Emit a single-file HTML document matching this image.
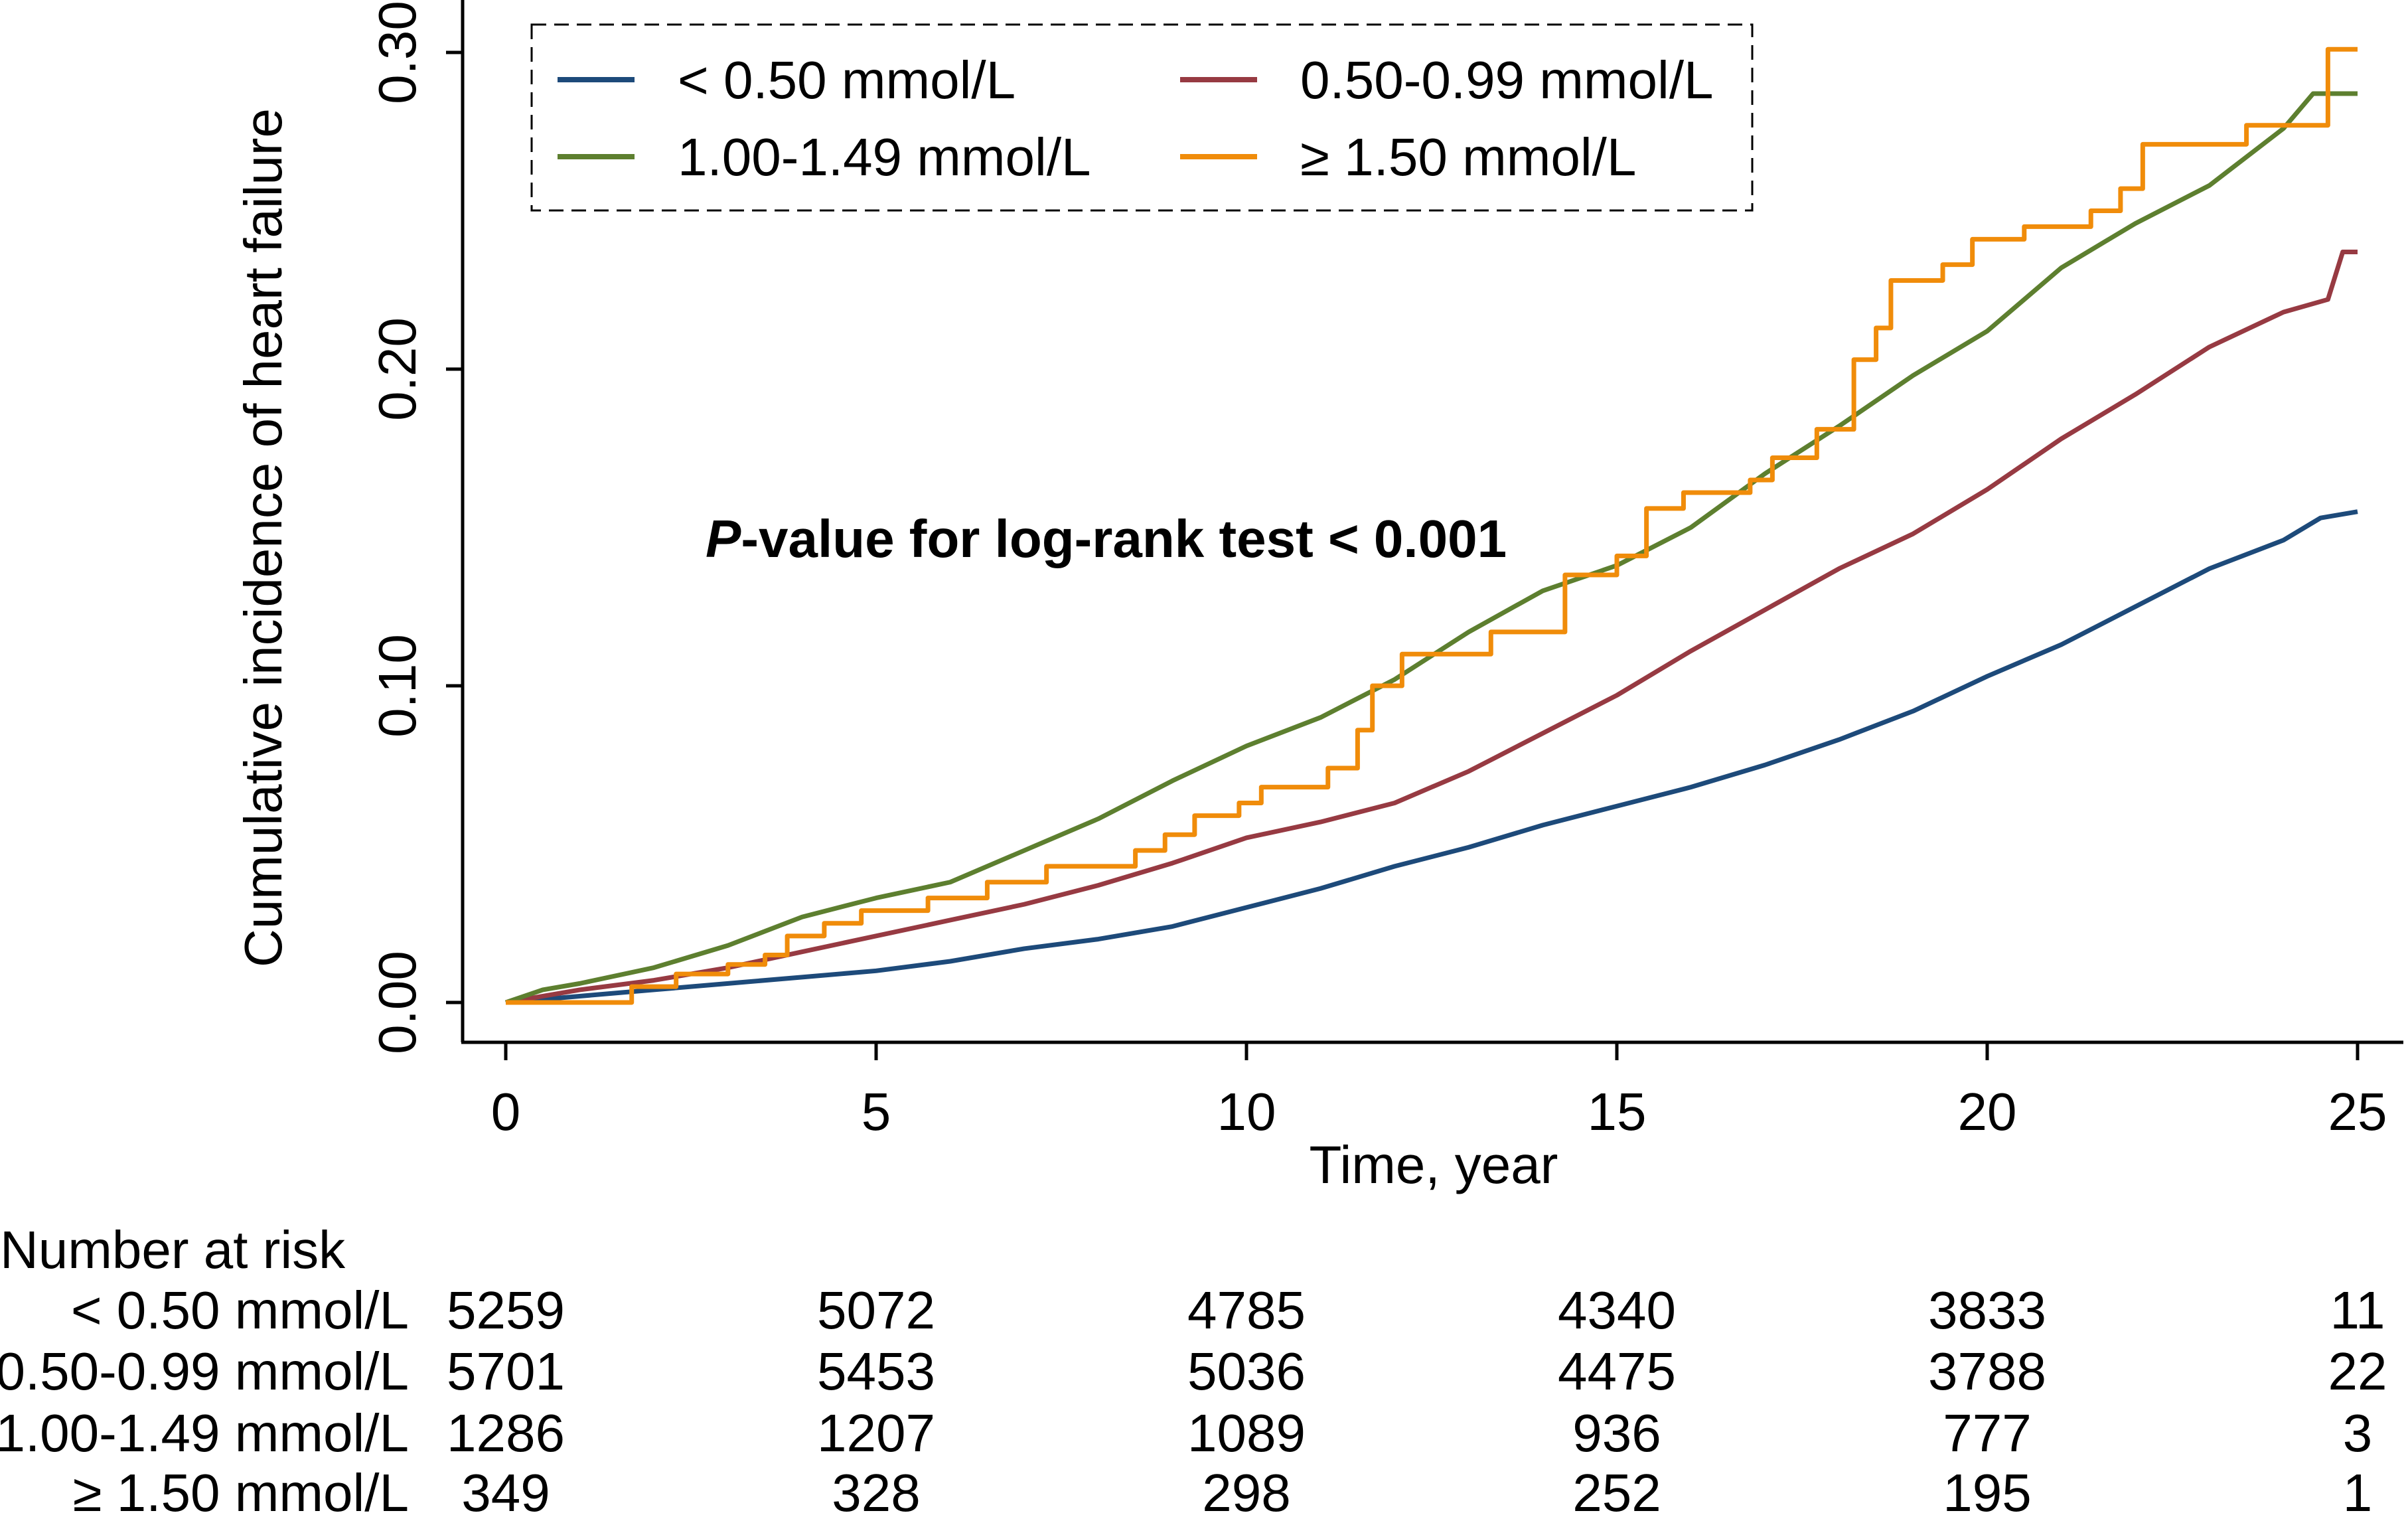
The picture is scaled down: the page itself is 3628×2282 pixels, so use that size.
<!DOCTYPE html>
<html><head><meta charset="utf-8"><style>
html,body{margin:0;padding:0;background:#fff;}
svg{display:block;font-family:"Liberation Sans",Arial,sans-serif;}
</style></head><body>
<svg id="chart" width="3628" height="2282" viewBox="0 0 3628 2282">
<g id="axes"></g>
<g id="series"></g>
<g id="legend"></g>
<g id="risk"></g>
</svg>
<script>
const xTicks=[0,5,10,15,20,25];
const yTicks=[0,0.1,0.2,0.3];
const yTickLabels=["0.00","0.10","0.20","0.30"];
const seriesNames=["< 0.50 mmol/L","0.50-0.99 mmol/L","1.00-1.49 mmol/L","≥ 1.50 mmol/L"];
const seriesColors=["#1d4a7a","#973a42","#5d7f2f","#f08c0a"];
const blueT=[0,1,2,3,4,5,6,7,8,9,10,11,12,13,14,15,16,17,18,19,20,21,22,23,24,24.5,25];
const blueV=[0,0.002,0.004,0.006,0.008,0.010,0.013,0.017,0.020,0.024,0.030,0.036,0.043,0.049,0.056,0.062,0.068,0.075,0.083,0.092,0.103,0.113,0.125,0.137,0.146,0.153,0.155];
const redT=[0,1,2,3,4,5,6,7,8,9,10,11,12,13,14,15,16,17,18,19,20,21,22,23,24,24.6,24.8,25];
const redV=[0,0.004,0.007,0.011,0.016,0.021,0.026,0.031,0.037,0.044,0.052,0.057,0.063,0.073,0.085,0.097,0.111,0.124,0.137,0.148,0.162,0.178,0.192,0.207,0.218,0.222,0.237,0.237];
const greenT=[0,0.5,1,2,3,4,5,6,7,8,9,10,11,12,13,14,15,16,17,18,19,20,21,22,23,24,24.4,25];
const greenV=[0,0.004,0.006,0.011,0.018,0.027,0.033,0.038,0.048,0.058,0.070,0.081,0.090,0.102,0.117,0.130,0.138,0.150,0.167,0.182,0.198,0.212,0.232,0.246,0.258,0.276,0.287,0.287];
const orangeT=[0,1.7,2.3,3,3.5,3.8,4.3,4.8,5.7,6.5,7.3,8.5,8.9,9.3,9.9,10.2,11.1,11.5,11.7,12.1,13.3,14.3,15,15.4,15.9,16.8,17.1,17.7,18.2,18.5,18.7,19.4,19.8,20.5,21.4,21.8,22.1,23.5,24.6,25];
const orangeV=[0,0.005,0.009,0.012,0.015,0.021,0.025,0.029,0.033,0.038,0.043,0.048,0.053,0.059,0.063,0.068,0.074,0.086,0.100,0.110,0.117,0.135,0.141,0.156,0.161,0.165,0.172,0.181,0.203,0.213,0.228,0.233,0.241,0.245,0.250,0.257,0.271,0.277,0.301,0.301];
const riskBlue=[5259,5072,4785,4340,3833,11];
const riskRed=[5701,5453,5036,4475,3788,22];
const riskGreen=[1286,1207,1089,936,777,3];
const riskOrange=[349,328,298,252,195,1];

const NS="http://www.w3.org/2000/svg";
const FS=80;
const X=t=>762+(3552-762)*t/25;
const Y=v=>1510-(1510-79)*v/0.3;
function mk(tag,attrs,parent,text){const e=document.createElementNS(NS,tag);for(const k in attrs)e.setAttribute(k,attrs[k]);if(text!==undefined)e.textContent=text;parent.appendChild(e);return e;}
const axes=document.getElementById('axes');
let e;
e=mk('line',{x1:697,y1:0,x2:697,y2:1570,stroke:'#000','stroke-width':5},axes);


e=mk('line',{x1:695,y1:1570,x2:3621,y2:1570,stroke:'#000','stroke-width':5},axes);


yTicks.forEach((v,i)=>{
  e=mk('line',{x1:672,y1:Y(v),x2:697,y2:Y(v),stroke:'#000','stroke-width':5},axes);
  
  
  e=mk('text',{x:0,y:0,transform:`translate(626 ${Y(v)}) rotate(-90)`,'text-anchor':'middle','font-size':FS},axes,yTickLabels[i]);
  
  
});
xTicks.forEach(t=>{
  e=mk('line',{x1:X(t),y1:1570,x2:X(t),y2:1597,stroke:'#000','stroke-width':5},axes);
  
  
  e=mk('text',{x:X(t),y:1702,'text-anchor':'middle','font-size':FS},axes,String(t));
  
  
});
e=mk('text',{x:0,y:0,transform:'translate(424 810) rotate(-90)','text-anchor':'middle','font-size':FS},axes,'Cumulative incidence of heart failure');


e=mk('text',{x:2160,y:1782,'text-anchor':'middle','font-size':FS},axes,'Time, year');


const pt=mk('text',{x:1063,y:839,'font-size':FS,'font-weight':'bold'},axes);


mk('tspan',{'font-style':'italic'},pt,'P');
mk('tspan',{},pt,'-value for log-rank test < 0.001');

const ser=document.getElementById('series');
const allT=[blueT,redT,greenT,orangeT],allV=[blueV,redV,greenV,orangeV];
const stepped=[false,false,false,true];
const sNames=['series-lt-050','series-050-099','series-100-149','series-ge-150'];
allT.forEach((T,s)=>{
  const V=allV[s];let d=`M${X(T[0])},${Y(V[0])}`;
  for(let i=1;i<T.length;i++){
    if(stepped[s]) d+=` H${X(T[i])} V${Y(V[i])}`;
    else d+=` L${X(T[i])},${Y(V[i])}`;
  }
  e=mk('path',{d:d,fill:'none',stroke:seriesColors[s],'stroke-width':7,'stroke-linejoin':'round'},ser);
  
  
});

const lg=document.getElementById('legend');
e=mk('rect',{x:801,y:37,width:1839,height:280,fill:'#fff',stroke:'#000','stroke-width':3,'stroke-dasharray':'22 12'},lg);


const lx=[840,1778,840,1778],ly=[120,120,236,236];
seriesNames.forEach((n,i)=>{
  e=mk('line',{x1:lx[i],y1:ly[i],x2:lx[i]+116,y2:ly[i],stroke:seriesColors[i],'stroke-width':8},lg);
  
  
  e=mk('text',{x:lx[i]+181,y:ly[i]+28,'font-size':FS},lg,n);
  
  
});

const rk=document.getElementById('risk');
e=mk('text',{x:0,y:1910,'font-size':FS},rk,'Number at risk');


const risks=[riskBlue,riskRed,riskGreen,riskOrange];const ry=[2001,2093,2186,2276];
risks.forEach((r,i)=>{
  e=mk('text',{x:616,y:ry[i],'text-anchor':'end','font-size':FS},rk,seriesNames[i]);
  
  
  r.forEach((n,j)=>{
    e=mk('text',{x:X(xTicks[j]),y:ry[i],'text-anchor':'middle','font-size':FS},rk,String(n));
    
    
  });
});
</script>
</body></html>
